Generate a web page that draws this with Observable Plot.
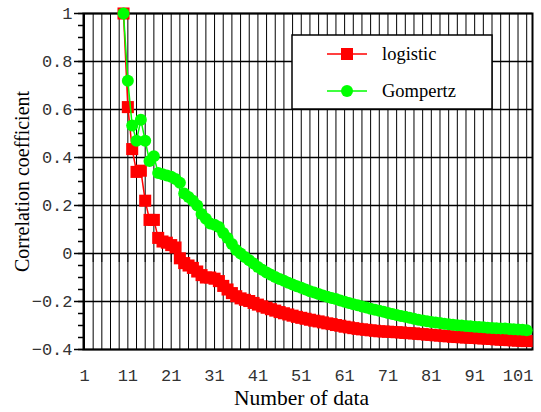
<!DOCTYPE html>
<html><head><meta charset="utf-8">
<script src="https://cdn.jsdelivr.net/npm/d3@7"></script>
<script src="https://cdn.jsdelivr.net/npm/@observablehq/plot@0.6"></script>
<style>body{margin:0;background:#fff}</style>
</head><body><div id="chart"></div>
<script>
const firstN = 10;
const seriesNames = ["logistic", "Gompertz"];
const seriesColors = ["#ff0000", "#00ff00"];
const logistic = [1.0, 0.61, 0.435, 0.34, 0.345, 0.22, 0.14, 0.14, 0.065, 0.05,
 0.045, 0.035, 0.025, -0.02, -0.04, -0.05, -0.06, -0.075, -0.09, -0.1,
 -0.1, -0.105, -0.115, -0.135, -0.15, -0.165, -0.178, -0.187, -0.193, -0.198,
 -0.206, -0.213, -0.22, -0.226, -0.232, -0.238, -0.244, -0.249, -0.254, -0.259,
 -0.264, -0.268, -0.272, -0.276, -0.28, -0.283, -0.287, -0.291, -0.294, -0.298,
 -0.301, -0.305, -0.308, -0.311, -0.314, -0.316, -0.318, -0.32, -0.322, -0.324,
 -0.325, -0.326, -0.327, -0.328, -0.329, -0.331, -0.332, -0.333, -0.335, -0.336,
 -0.338, -0.339, -0.341, -0.342, -0.344, -0.345, -0.347, -0.348, -0.349, -0.35,
 -0.351, -0.352, -0.353, -0.354, -0.355, -0.356, -0.358, -0.359, -0.36, -0.361,
 -0.362, -0.363, -0.364, -0.365];
const gompertz = [1.0, 0.72, 0.533, 0.47, 0.557, 0.47, 0.385, 0.405, 0.335, 0.33,
 0.325, 0.32, 0.31, 0.295, 0.25, 0.235, 0.22, 0.2, 0.165, 0.145,
 0.125, 0.12, 0.11, 0.085, 0.065, 0.04, 0.015, 0.0, -0.015, -0.028,
 -0.042, -0.056, -0.068, -0.079, -0.089, -0.098, -0.106, -0.114, -0.122, -0.129,
 -0.136, -0.143, -0.15, -0.157, -0.163, -0.169, -0.175, -0.18, -0.185, -0.19,
 -0.196, -0.201, -0.206, -0.211, -0.216, -0.221, -0.225, -0.23, -0.234, -0.239,
 -0.243, -0.248, -0.252, -0.256, -0.26, -0.264, -0.268, -0.272, -0.276, -0.279,
 -0.282, -0.285, -0.288, -0.29, -0.293, -0.295, -0.297, -0.299, -0.3, -0.302,
 -0.303, -0.305, -0.306, -0.307, -0.309, -0.31, -0.311, -0.312, -0.313, -0.315,
 -0.316, -0.317, -0.318, -0.32];
const xTicks = [1, 11, 21, 31, 41, 51, 61, 71, 81, 91, 101];
const xTickLabels = ["1", "11", "21", "31", "41", "51", "61", "71", "81", "91", "101"];
const yTicks = [-0.4, -0.2, 0, 0.2, 0.4, 0.6, 0.8, 1];
const yTickLabels = ["\u22120.4", "\u22120.2", "0", "0.2", "0.4", "0.6", "0.8", "1"];
const xTitle = "Number of data";
const yTitle = "Correlation coefficient";

const toRows = (vals, s) => vals.map((v, i) => ({n: firstN + i, r: v, s}));
const logRows = toRows(logistic, seriesNames[0]);
const gomRows = toRows(gompertz, seriesNames[1]);
const gridX = d3.range(1, 104, 2);
const minorY = d3.range(-0.4, 1.0001, 0.05).map(v => +v.toFixed(2));
const xLabelMap = new Map(xTicks.map((t, i) => [t, xTickLabels[i]]));
const yLabelMap = new Map(yTicks.map((t, i) => [t, yTickLabels[i]]));

const xDomain = [0.77, 104.34];
const plotLeft = 83, plotRight = 532;
const pxPerUnit = (plotRight - plotLeft) / (xDomain[1] - xDomain[0]);

const mono = "'Liberation Mono', monospace";
const serif = "'Liberation Serif', serif";

function legendMark() {
  const g = d3.create("svg:g");
  g.append("rect").attr("x", 292).attr("y", 35).attr("width", 200).attr("height", 74)
    .attr("fill", "#fff").attr("stroke", "#000").attr("stroke-width", 1.5);
  seriesNames.forEach((name, k) => {
    const yc = 54 + 37 * k;
    g.append("line").attr("x1", 327).attr("x2", 367).attr("y1", yc).attr("y2", yc)
      .attr("stroke", seriesColors[k]).attr("stroke-width", 1.5);
    if (k === 0) {
      g.append("rect").attr("x", 341).attr("y", yc - 6).attr("width", 12).attr("height", 12)
        .attr("fill", seriesColors[k]);
    } else {
      g.append("circle").attr("cx", 347).attr("cy", yc).attr("r", 6).attr("fill", seriesColors[k]);
    }
    g.append("text").attr("x", 382).attr("y", yc + 6)
      .style("font-family", serif).style("font-size", "18.5px").style("text-anchor", "start")
      .attr("fill", "#000").text(name);
  });
  return g.node();
}

const chart = Plot.plot({
  width: 541,
  height: 412,
  marginLeft: plotLeft,
  marginRight: 541 - plotRight,
  marginTop: 13,
  marginBottom: 63,
  style: {background: "#fff", overflow: "visible", fontFamily: mono, fontSize: "17px", color: "#333"},
  x: {domain: xDomain, ticks: xTicks, tickSize: 0, tickPadding: 19, tickFormat: d => xLabelMap.get(d), label: null},
  y: {domain: [-0.4, 1], ticks: yTicks, tickSize: 9, tickPadding: 2, tickFormat: d => yLabelMap.get(d), label: null},
  color: {domain: seriesNames, range: seriesColors},
  marks: [
    Plot.ruleX(gridX, {stroke: "#000", strokeWidth: 1}),
    Plot.ruleX(gridX, {y1: 0, y2: -0.0375, stroke: "#000", strokeWidth: 1}),
    Plot.ruleY(yTicks, {stroke: "#000", strokeWidth: 1.5}),
    Plot.ruleY(minorY, {x1: xDomain[0], x2: xDomain[0] - 5 / pxPerUnit, stroke: "#000", strokeWidth: 1.5}),
    Plot.ruleY(yTicks, {x1: xDomain[0], x2: xDomain[0] - 9 / pxPerUnit, stroke: "#000", strokeWidth: 1.5}),
    Plot.frame({stroke: "#000", strokeWidth: 2}),
    Plot.line(logRows, {x: "n", y: "r", stroke: "s", strokeWidth: 1.5}),
    Plot.dot(logRows, {x: "n", y: "r", symbol: "square", r: 6.8, fill: "s"}),
    Plot.line(gomRows, {x: "n", y: "r", stroke: "s", strokeWidth: 1.5}),
    Plot.dot(gomRows, {x: "n", y: "r", symbol: "circle", r: 6, fill: "s"}),
    Plot.text([xTitle], {frameAnchor: "bottom", text: d => d, dx: -6.5, dy: 49, lineAnchor: "middle",
      textAnchor: "middle", fontSize: 21.5, fontFamily: serif, fill: "#000"}),
    Plot.text([yTitle], {frameAnchor: "left", text: d => d, rotate: -90, dx: -61, lineAnchor: "middle",
      textAnchor: "middle", fontSize: 20, fontFamily: serif, fill: "#000"}),
    legendMark
  ]
});
document.getElementById("chart").appendChild(chart);
</script>
</body></html>
